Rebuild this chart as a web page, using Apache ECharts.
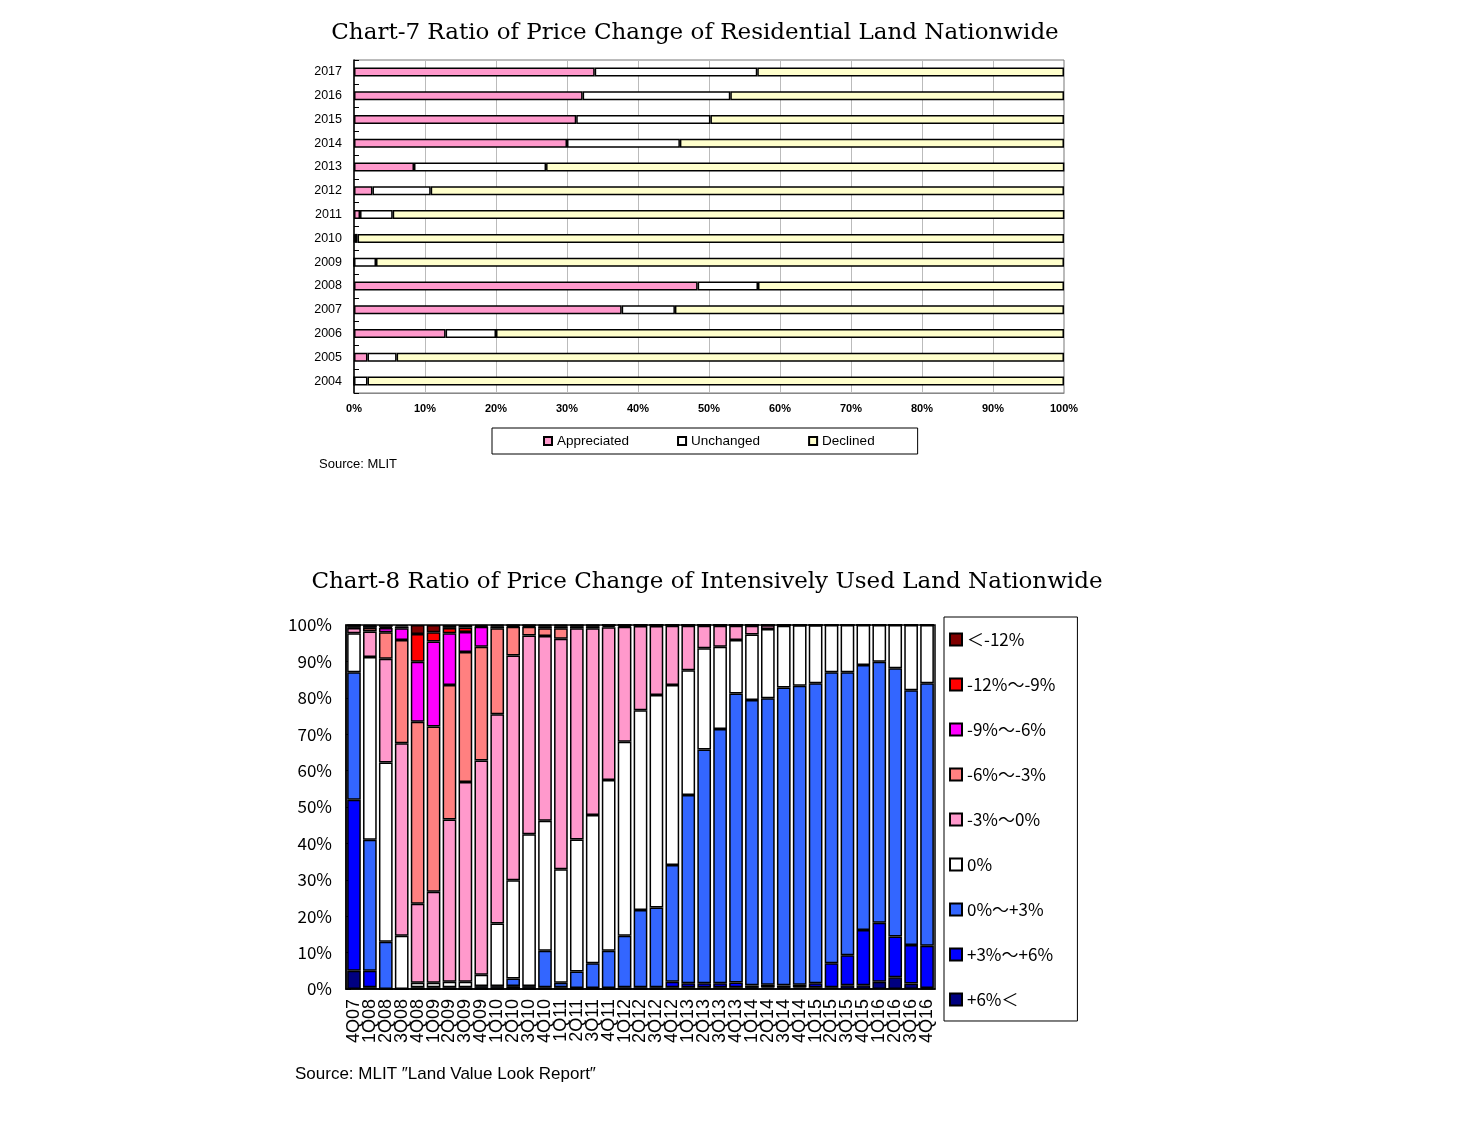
<!DOCTYPE html>
<html>
<head>
<meta charset="utf-8">
<script src="https://cdn.jsdelivr.net/npm/echarts@6/dist/echarts.min.js"></script>
<style>
  html, body { margin: 0; padding: 0; background: #fff; }
  #main { width: 1457px; height: 1140px; }
</style>
</head>
<body>
<div id="main"></div>
<script>
// Chart-7 data (percent of sites)
var years = ['2004', '2005', '2006', '2007', '2008', '2009', '2010', '2011', '2012', '2013', '2014', '2015', '2016', '2017'];
var appreciated = [0, 1.9, 12.9, 37.7, 48.4, 0, 0.1, 0.85, 2.6, 8.45, 30.0, 31.3, 32.2, 33.9];
var unchanged = [1.9, 4.1, 7.1, 7.5, 8.5, 3.1, 0.4, 4.6, 8.2, 18.6, 15.9, 18.9, 20.8, 22.9];
var declined = [98.1, 94.0, 80.0, 54.8, 43.1, 96.9, 99.5, 94.6, 89.2, 73.0, 54.1, 49.8, 47.0, 43.2];

// Chart-8 data (percent of districts), quarters 4Q07 .. 4Q16
var quarters = ['4Q07',
  '1Q08', '2Q08', '3Q08', '4Q08', '1Q09', '2Q09', '3Q09', '4Q09',
  '1Q10', '2Q10', '3Q10', '4Q10', '1Q11', '2Q11', '3Q11', '4Q11',
  '1Q12', '2Q12', '3Q12', '4Q12', '1Q13', '2Q13', '3Q13', '4Q13',
  '1Q14', '2Q14', '3Q14', '4Q14', '1Q15', '2Q15', '3Q15', '4Q15',
  '1Q16', '2Q16', '3Q16', '4Q16'];
var plus6Over = [5, 0.5, 0, 0, 0, 0, 0, 0, 0, 0, 0, 0, 0, 0, 0, 0, 0, 0, 0, 0, 0.5, 0.5, 0.5, 0.5, 0.5, 0.3, 0.4, 0.3, 0.4, 0.5, 0.5, 1, 1, 2, 3.2, 1.5, 0.3];
var plus3to6 = [47, 4.5, 0, 0, 0, 0, 0, 0, 0.3, 0.3, 0.8, 0.3, 0.5, 0.5, 0.3, 0.3, 0.3, 0.5, 0.5, 0.5, 1.5, 1.1, 1.1, 1.1, 1.3, 0.7, 0.8, 0.7, 0.8, 1.1, 6.6, 8.3, 15.2, 16.2, 11.2, 10.6, 11.6];
var plus0to3 = [35, 36, 13, 0, 0.5, 0.5, 0.5, 0.5, 0.5, 0.5, 2.1, 0.5, 10, 1.2, 4.5, 6.8, 10.2, 14.1, 21.2, 21.9, 32.1, 51.7, 64.2, 69.8, 79.4, 78.4, 78.7, 81.8, 82.1, 82.4, 79.9, 77.7, 72.8, 71.7, 73.7, 70, 72.1];
var zeroChange = [10.7, 50.2, 49.2, 14.6, 1.2, 1.2, 1.5, 1.5, 3.1, 17.2, 27, 41.7, 35.7, 31.2, 36.3, 40.7, 46.9, 53.3, 54.9, 58.4, 49.4, 34.3, 27.8, 22.6, 14.7, 18, 19, 17, 16.6, 15.9, 13, 13, 11, 10.1, 11.9, 17.9, 16];
var minus0to3 = [1.5, 7, 28.5, 52.9, 21.7, 25, 44.6, 54.9, 58.9, 57.5, 61.7, 54.6, 50.8, 63.3, 58, 51.3, 42, 31.6, 23.1, 18.9, 16.3, 12.2, 6.2, 5.8, 3.9, 2.4, 1.0, 0.2, 0.1, 0.1, 0, 0, 0, 0, 0, 0, 0];
var minus3to6 = [0.5, 1, 7.3, 28.4, 50, 45.4, 36.9, 35.7, 31.2, 23.6, 7.9, 2.4, 2.1, 2.9, 0.5, 0.5, 0.4, 0.3, 0.3, 0.3, 0.2, 0.2, 0.2, 0.2, 0.2, 0.2, 0.1, 0, 0, 0, 0, 0, 0, 0, 0, 0, 0];
var minus6to9 = [0.2, 0.5, 1.2, 3.2, 16.5, 23.4, 14.2, 5.5, 5.5, 0.5, 0.3, 0.3, 0.5, 0.5, 0.2, 0.2, 0.1, 0.1, 0, 0, 0, 0, 0, 0, 0, 0, 0, 0, 0, 0, 0, 0, 0, 0, 0, 0, 0];
var minus9to12 = [0, 0, 0.3, 0.5, 7.6, 2.5, 1.5, 1.2, 0.2, 0.2, 0.1, 0.1, 0.2, 0.2, 0.1, 0.1, 0.05, 0.05, 0, 0, 0, 0, 0, 0, 0, 0, 0, 0, 0, 0, 0, 0, 0, 0, 0, 0, 0];
var minus12Over = [0.1, 0.3, 0.5, 0.4, 2.5, 2, 0.8, 0.7, 0.3, 0.2, 0.1, 0.1, 0.2, 0.2, 0.1, 0.1, 0.05, 0.05, 0, 0, 0, 0, 0, 0, 0, 0, 0, 0, 0, 0, 0, 0, 0, 0, 0, 0, 0];

var sans = 'Liberation Sans';
var jp = 'Noto Sans CJK JP';

function hBar(name, data, color) {
  return {
    name: name,
    type: 'bar',
    stack: 'c7',
    xAxisIndex: 0,
    yAxisIndex: 0,
    barWidth: 9,
    itemStyle: { color: color, borderColor: '#000', borderWidth: 1.5 },
    data: data
  };
}

function vBar(name, data, color) {
  return {
    name: name,
    type: 'bar',
    stack: 'c8',
    xAxisIndex: 1,
    yAxisIndex: 1,
    barWidth: '86%',
    itemStyle: { color: color, borderColor: '#000', borderWidth: 1.5 },
    data: data
  };
}

var chart = echarts.init(document.getElementById('main'));

var option = {
  backgroundColor: '#fff',
  animation: false,
  title: [
    {
      text: 'Chart-7 Ratio of Price Change of Residential Land Nationwide',
      left: 690, top: 17, textAlign: 'center',
      textStyle: { fontFamily: 'DejaVu Serif', fontSize: 23, fontWeight: 'normal', color: '#000' }
    },
    {
      text: 'Source: MLIT',
      left: 314, top: 453,
      textStyle: { fontFamily: sans, fontSize: 13, fontWeight: 'normal', color: '#000' }
    },
    {
      text: 'Chart-8 Ratio of Price Change of Intensively Used Land Nationwide',
      left: 702, top: 566, textAlign: 'center',
      textStyle: { fontFamily: 'DejaVu Serif', fontSize: 23, fontWeight: 'normal', color: '#000' }
    },
    {
      text: 'Source: MLIT \u2033Land Value Look Report\u2033',
      left: 290, top: 1061,
      textStyle: { fontFamily: sans, fontSize: 17, fontWeight: 'normal', color: '#000' }
    }
  ],
  legend: [
    {
      data: ['Appreciated', 'Unchanged', 'Declined'],
      left: 492, top: 428,
      padding: [6, 43, 6, 51],
      itemGap: 48,
      icon: 'rect',
      itemWidth: 8, itemHeight: 8,
      borderColor: '#000', borderWidth: 1,
      textStyle: { fontFamily: sans, fontSize: 13.5, color: '#000' }
    },
    {
      data: ['\uFF1C-12%', '-12%\uFF5E-9%', '-9%\uFF5E-6%', '-6%\uFF5E-3%', '-3%\uFF5E0%', '0%', '0%\uFF5E+3%', '+3%\uFF5E+6%', '+6%\uFF1C'],
      orient: 'vertical',
      left: 944, top: 617,
      padding: [14, 22, 13, 5],
      itemGap: 28,
      icon: 'rect',
      itemWidth: 12, itemHeight: 12,
      borderColor: '#000', borderWidth: 1,
      textStyle: { fontFamily: jp, fontSize: 17, color: '#000' }
    }
  ],
  grid: [
    { left: 354, top: 60, width: 710, height: 333, show: true, borderColor: '#777', borderWidth: 1 },
    { left: 346, top: 625, width: 589, height: 364, show: true, borderColor: '#000', borderWidth: 1.5 }
  ],
  xAxis: [
    {
      gridIndex: 0,
      type: 'value',
      min: 0, max: 100, interval: 10,
      axisLine: { show: true, lineStyle: { color: '#888' } },
      axisTick: { show: false },
      splitLine: { show: true, lineStyle: { color: '#bbb', width: 1 } },
      axisLabel: { formatter: '{value}%', fontFamily: sans, fontSize: 11, fontWeight: 'bold', color: '#000', margin: 10 }
    },
    {
      gridIndex: 1,
      type: 'category',
      data: quarters,
      axisLine: { show: true, lineStyle: { color: '#000', width: 1.5 } },
      axisTick: { show: false },
      axisLabel: { interval: 0, rotate: 90, fontFamily: sans, fontSize: 18, color: '#000', margin: 10 }
    }
  ],
  yAxis: [
    {
      gridIndex: 0,
      type: 'category',
      data: years,
      axisLine: { show: true, lineStyle: { color: '#000', width: 1.5 } },
      axisTick: { show: true, inside: true, length: 5, lineStyle: { color: '#000' } },
      axisLabel: { fontFamily: sans, fontSize: 12.5, color: '#000', margin: 12 }
    },
    {
      gridIndex: 1,
      type: 'value',
      min: 0, max: 100, interval: 10,
      axisLine: { show: true, lineStyle: { color: '#000', width: 1.5 } },
      axisTick: { show: true, inside: true, length: 5, lineStyle: { color: '#000' } },
      splitLine: { show: false },
      axisLabel: { formatter: '{value}%', fontFamily: jp, fontSize: 17, color: '#000', margin: 14 }
    }
  ],
  series: [
    hBar('Appreciated', appreciated, '#ff99cc'),
    hBar('Unchanged', unchanged, '#ffffff'),
    hBar('Declined', declined, '#ffffcc'),
    vBar('+6%\uFF1C', plus6Over, '#000080'),
    vBar('+3%\uFF5E+6%', plus3to6, '#0000ff'),
    vBar('0%\uFF5E+3%', plus0to3, '#3366ff'),
    vBar('0%', zeroChange, '#ffffff'),
    vBar('-3%\uFF5E0%', minus0to3, '#ff99cc'),
    vBar('-6%\uFF5E-3%', minus3to6, '#ff8080'),
    vBar('-9%\uFF5E-6%', minus6to9, '#ff00ff'),
    vBar('-12%\uFF5E-9%', minus9to12, '#ff0000'),
    vBar('\uFF1C-12%', minus12Over, '#800000')
  ]
};

chart.setOption(option);
</script>
</body>
</html>
